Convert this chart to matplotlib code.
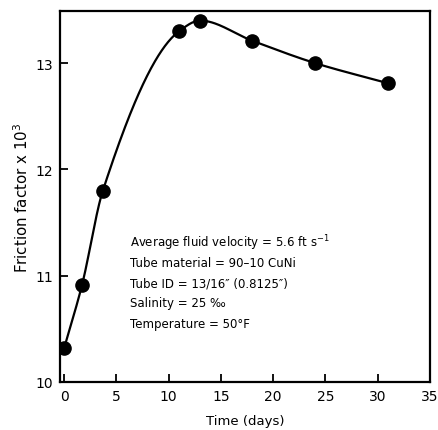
import numpy as np
import matplotlib
matplotlib.use("Agg")
import matplotlib.pyplot as plt

# data
days = [0, 1.7, 3.7, 11, 13, 18, 24, 31]
friction = [10.32, 10.91, 11.80, 13.30, 13.40, 13.21, 13.00, 12.81]

x_ticks = [0, 5, 10, 15, 20, 25, 30, 35]
y_ticks = [10, 11, 12, 13]

notes = [
    r"Average fluid velocity = 5.6 ft s$^{-1}$",
    "Tube material = 90\u201310 CuNi",
    "Tube ID = 13/16\u2033 (0.8125\u2033)",
    "Salinity = 25 \u2030",
    "Temperature = 50\u00b0F",
]


def pchip(x, y, xs):
    # shape preserving cubic through the points (for the smooth drawn curve)
    x = np.asarray(x, float)
    y = np.asarray(y, float)
    h = np.diff(x)
    d = np.diff(y) / h
    m = np.zeros_like(y)
    for k in range(1, len(x) - 1):
        if d[k - 1] * d[k] > 0:
            w1 = 2 * h[k] + h[k - 1]
            w2 = h[k] + 2 * h[k - 1]
            m[k] = (w1 + w2) / (w1 / d[k - 1] + w2 / d[k])
    m[0] = d[0]
    m[-1] = d[-1]
    idx = np.clip(np.searchsorted(x, xs) - 1, 0, len(h) - 1)
    t = (xs - x[idx]) / h[idx]
    h00 = 2 * t**3 - 3 * t**2 + 1
    h10 = t**3 - 2 * t**2 + t
    h01 = -2 * t**3 + 3 * t**2
    h11 = t**3 - t**2
    return (h00 * y[idx] + h10 * h[idx] * m[idx]
            + h01 * y[idx + 1] + h11 * h[idx] * m[idx + 1])


plt.rcParams['font.family'] = ['DejaVu Sans']

fig = plt.figure(figsize=(4.39, 4.31), dpi=100)
ax = fig.add_axes([60 / 439, 48 / 431, 370 / 439, 371 / 431])

xs = np.linspace(days[0], days[-1], 400)
ax.plot(xs, pchip(days, friction, xs), color='black', lw=1.6)
ax.plot(days, friction, 'o', color='black', ms=9.5)

ax.set_xlim(-0.4, 35)
ax.set_ylim(10, 13.49)
ax.set_xticks(x_ticks)
ax.set_yticks(y_ticks)
ax.tick_params(direction='in', length=6, width=1.3, labelsize=10,
               top=False, right=False, pad=5)
for s in ax.spines.values():
    s.set_linewidth(1.6)

ax.set_xlabel('Time (days)', fontsize=9.5, labelpad=8)
ax.set_ylabel(r'Friction factor x 10$^3$', fontsize=10.8, labelpad=3)

for i, line in enumerate(notes):
    ax.text(0.189, 0.377 - i * 0.0545, line, transform=ax.transAxes,
            fontsize=8.5, va='center', ha='left')

fig.savefig('out.png', dpi=100)
